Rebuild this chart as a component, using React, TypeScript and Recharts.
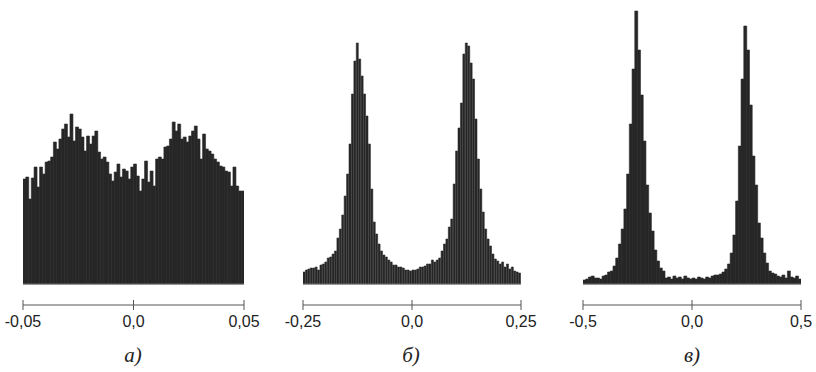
import { BarChart, Bar, XAxis, YAxis, ReferenceLine } from 'recharts';

// bar heights (arbitrary count units)
const heightsA = [
  105, 107, 85, 106, 117, 97, 117, 110, 122, 123, 127, 142, 135, 145, 155, 160, 147, 170, 143, 157, 155, 147, 133, 148, 140, 148,
  153, 132, 125, 127, 122, 110, 103, 112, 120, 107, 115, 113, 105, 117, 120, 108, 93, 105, 123, 102, 113, 98, 125, 127, 125, 137, 138,
  145, 162, 153, 160, 145, 147, 142, 148, 153, 158, 145, 125, 150, 135, 133, 130, 125, 122, 118, 117, 113, 112, 98, 117, 98, 93, 93
];
const heightsB = [
  12, 14, 15, 16, 16, 17, 14, 19, 20, 22, 26, 27, 30, 33, 46, 55, 69, 88, 110, 140, 190, 223, 241, 225, 208, 190, 168, 140, 95, 62,
  50, 40, 33, 29, 27, 24, 22, 19, 19, 17, 17, 16, 14, 14, 13, 14, 14, 15, 17, 17, 18, 20, 20, 24, 22, 24, 26, 33, 40, 45,
  57, 65, 100, 133, 156, 181, 230, 241, 238, 221, 205, 165, 125, 95, 72, 55, 45, 38, 30, 25, 23, 20, 22, 17, 20, 15, 17, 13, 12, 11
];
const heightsC = [
  4, 5, 7, 8, 6, 6, 5, 8, 9, 12,
  13, 18, 26, 40, 55, 75, 110, 160, 215, 273,
  234, 189, 143, 99, 71, 53, 34, 23, 16, 13,
  6, 7, 5, 8, 6, 7, 5, 8, 6, 5,
  6, 5, 7, 6, 5, 7, 6, 8, 9, 9,
  10, 12, 15, 20, 31, 49, 83, 138, 205, 258,
  234, 179, 128, 99, 61, 46, 31, 21, 13, 11,
  10, 8, 7, 9, 6, 13, 7, 6, 8, 5
];

const ticksA = [-0.05, 0, 0.05];
const ticksB = [-0.25, 0, 0.25];
const ticksC = [-0.5, 0, 0.5];
const labelsA = ['-0,05', '0,0', '0,05'];
const labelsB = ['-0,25', '0,0', '0,25'];
const labelsC = ['-0,5', '0,0', '0,5'];
const captions = ['а)', 'б)', 'в)'];

const toBins = (heights: number[], range: number) => {
  const w = (2 * range) / heights.length;
  return heights.map((h, i) => ({ x: -range + (i + 0.5) * w, h }));
};

const AxisTick = (props: any) => {
  const { x, y, payload, ticks, labels } = props;
  const idx = ticks.findIndex((t: number) => Math.abs(t - payload.value) < 1e-9);
  return (
    <g>
      <line x1={x} x2={x} y1={y - 5} y2={y + 5} stroke="#555" strokeWidth={1} />
      <text
        x={x}
        y={y + 22}
        textAnchor="middle"
        fill="#222"
        fontSize={16}
        fontFamily="'Liberation Sans', Arial, sans-serif"
      >
        {labels[idx]}
      </text>
    </g>
  );
};

type HistProps = {
  heights: number[];
  range: number;
  ticks: number[];
  labels: string[];
  left: number;
  width: number;
  marginLeft: number;
  marginRight: number;
};

function Histogram({ heights, range, ticks, labels, left, width, marginLeft, marginRight }: HistProps) {
  const data = toBins(heights, range);
  return (
    <div style={{ position: 'absolute', left, top: 0 }}>
      <BarChart
        width={width}
        height={372}
        data={data}
        margin={{ top: 0, right: marginRight, left: marginLeft, bottom: 37 }}
        barCategoryGap={0}
        barGap={0}
      >
        <XAxis
          type="number"
          dataKey="x"
          domain={[-range, range]}
          allowDataOverflow
          ticks={ticks}
          interval={0}
          height={30}
          tickSize={0}
          tickMargin={0}
          axisLine={{ stroke: '#555' }}
          tickLine={false}
          tick={<AxisTick ticks={ticks} labels={labels} />}
        />
        <YAxis hide type="number" domain={[-21, 284]} allowDataOverflow />
        <Bar dataKey="h" fill="#262626" stroke="#2c2c2c" strokeWidth={0.6} isAnimationActive={false} />
        <ReferenceLine y={0} stroke="#6a6a6a" strokeWidth={1} />
      </BarChart>
    </div>
  );
}

const captionX = [133, 411, 692];

export default function App() {
  return (
    <div style={{ position: 'absolute', left: 0, top: 0, width: 816, height: 372, background: '#fff' }}>
      <Histogram heights={heightsA} range={0.05} ticks={ticksA} labels={labelsA} left={0} width={270} marginLeft={23} marginRight={26} />
      <Histogram heights={heightsB} range={0.25} ticks={ticksB} labels={labelsB} left={270} width={270} marginLeft={33} marginRight={19} />
      <Histogram heights={heightsC} range={0.5} ticks={ticksC} labels={labelsC} left={540} width={276} marginLeft={43} marginRight={15} />
      {captions.map((c, i) => (
        <div
          key={c}
          style={{
            position: 'absolute',
            left: captionX[i] - 30,
            top: 343,
            width: 60,
            textAlign: 'center',
            fontFamily: "'Liberation Serif', 'Times New Roman', serif",
            fontStyle: 'italic',
            fontSize: 21,
            lineHeight: '24px',
            color: '#222'
          }}
        >
          {c}
        </div>
      ))}
    </div>
  );
}
